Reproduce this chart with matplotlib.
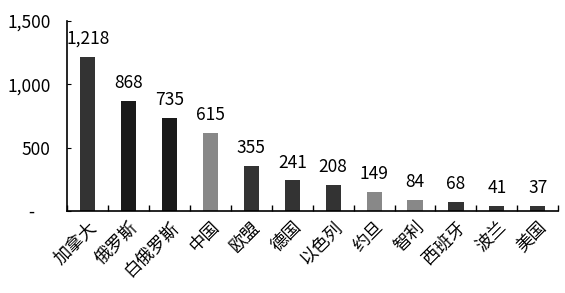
import numpy as np
import matplotlib
matplotlib.use("Agg")
import matplotlib.pyplot as plt

plt.rcParams["font.family"] = ["Noto Sans CJK SC", "DejaVu Sans"]

countries = ["加拿大", "俄罗斯", "白俄罗斯", "中国", "欧盟", "德国", "以色列",
             "约旦", "智利", "西班牙", "波兰", "美国"]
values = [1218, 868, 735, 615, 355, 241, 208, 149, 84, 68, 41, 37]
colors = ["#333333", "#1a1a1a", "#1a1a1a", "#888888", "#333333", "#333333",
          "#333333", "#888888", "#888888", "#333333", "#333333", "#333333"]
ytick_vals = [0, 500, 1000, 1500]
ytick_labels = ["-    ", "500", "1,000", "1,500"]

fig = plt.figure(figsize=(5.65, 2.93), dpi=100)
ax = fig.add_axes([0.119, 0.28, 0.869, 0.648])

x = np.arange(len(countries))
ax.bar(x, values, width=0.37, color=colors)
for xi, v in zip(x, values):
    ax.text(xi, v + 70, f"{v:,}", ha="center", va="bottom", fontsize=12.5)

ax.set_xlim(-0.5, len(countries) - 0.5)
ax.set_ylim(0, 1500)
ax.set_yticks(ytick_vals)
ax.set_yticklabels(ytick_labels, fontsize=12.5)
ax.tick_params(axis="y", length=3, direction="in", pad=12)

ax.set_xticks(x)
ax.set_xticklabels(countries, rotation=45, ha="right", rotation_mode="anchor", fontsize=12.5)
ax.tick_params(axis="x", length=0, pad=5)
ax.set_xticks(np.arange(len(countries) + 1) - 0.5, minor=True)
ax.tick_params(axis="x", which="minor", direction="in", length=4, width=1)

for s in ["top", "right"]:
    ax.spines[s].set_visible(False)
ax.spines["left"].set_linewidth(1.2)
ax.spines["bottom"].set_linewidth(1.2)

fig.savefig("out.png", dpi=100)
